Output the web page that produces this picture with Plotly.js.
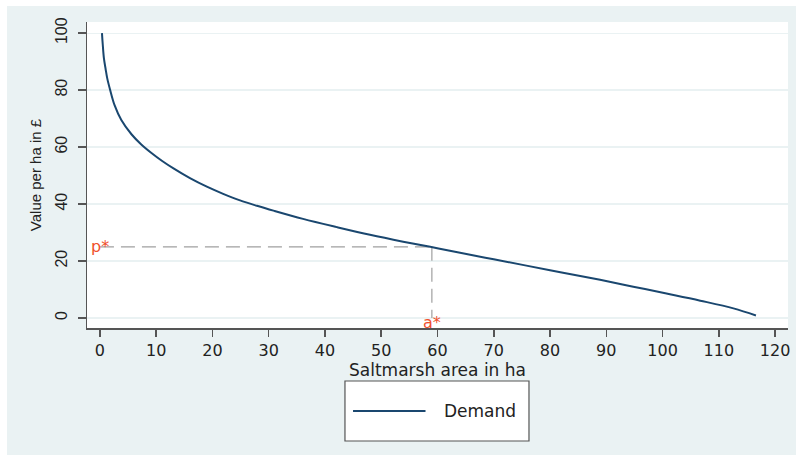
<!DOCTYPE html>
<html>
<head>
<meta charset="utf-8">
<script src="https://cdn.plot.ly/plotly-3.0.1.min.js"></script>
<style>html,body{margin:0;padding:0;background:#fff;}#chart{width:796px;height:459px;}</style>
</head>
<body>
<div id="chart"></div>
<script>
// Demand curve
var demandX = [0.36, 0.5, 0.71, 1.0, 1.3, 1.78, 2.6, 3.8, 5.6, 7.3, 9.1, 11, 13, 16, 19, 21.9, 24.9, 27.9, 31, 36.1, 42.1, 48, 53.9, 58.7, 62.2, 70, 80, 88.9, 94.8, 100.7, 106.7, 112.6, 116.6];
var demandY = [100, 96, 91.1, 87.5, 84.1, 80.3, 74.7, 69.5, 64.5, 61.0, 58.0, 55.2, 52.6, 49.1, 46.1, 43.6, 41.3, 39.4, 37.6, 34.8, 31.9, 29.2, 26.8, 25.0, 23.6, 20.6, 16.8, 13.4, 11.0, 8.6, 6.1, 3.4, 0.9];
// equilibrium
var pStar = 25;
var aStar = 59;
var xTicks = [0, 10, 20, 30, 40, 50, 60, 70, 80, 90, 100, 110, 120];
var yTicks = [0, 20, 40, 60, 80, 100];
var seriesName = 'Demand';

var traces = [
  {x: [0, aStar], y: [pStar, pStar], mode: 'lines', line: {color: '#a0a0a0', width: 1.2, dash: '14px,7px'}, showlegend: false, hoverinfo: 'skip'},
  {x: [aStar, aStar], y: [pStar, 0], mode: 'lines', line: {color: '#a0a0a0', width: 1.2, dash: '14px,7px'}, showlegend: false, hoverinfo: 'skip'},
  {x: demandX, y: demandY, mode: 'lines', line: {color: '#1a476f', width: 2, shape: 'spline', smoothing: 1}, name: seriesName, showlegend: false}
];

var bg = '#eaf2f3';
var layout = {
  width: 796, height: 459,
  margin: {l: 87, r: 8, t: 22, b: 131},
  paper_bgcolor: bg,
  plot_bgcolor: '#ffffff',
  font: {family: 'Liberation Sans, Arial, sans-serif', color: '#222'},
  xaxis: {
    range: [-2.3, 122.3], tickvals: xTicks, ticktext: xTicks.map(String),
    showgrid: false, zeroline: false, showline: true, linecolor: '#555', linewidth: 1.5,
    ticks: 'outside', ticklen: 7, tickcolor: '#555', tickwidth: 1.5,
    tickfont: {family: 'DejaVu Sans, sans-serif', size: 16, color: '#222'},
    ticklabelstandoff: 0,
    title: {text: 'Saltmarsh area in ha', font: {family: 'DejaVu Sans, sans-serif', size: 17, color: '#222'}, standoff: 1},
    fixedrange: true
  },
  yaxis: {
    range: [-3.5, 103.9], tickvals: yTicks, ticktext: yTicks.map(String),
    showgrid: true, gridcolor: bg, gridwidth: 1.2, zeroline: false,
    showline: true, linecolor: '#555', linewidth: 1.5,
    ticks: 'outside', ticklen: 8, tickcolor: '#555', tickwidth: 1.5,
    tickangle: -90,
    tickfont: {family: 'Liberation Sans, Arial, sans-serif', size: 16, color: '#222'},
    ticklabelstandoff: 4,
    title: {text: 'Value per ha in £', font: {family: 'Liberation Sans, Arial, sans-serif', size: 15, color: '#222'}, standoff: 8},
    fixedrange: true
  },
  showlegend: false,
  shapes: [
    // white page edges outside the grey-blue frame
    {type: 'rect', xref: 'paper', yref: 'paper', x0: -0.2, x1: 1.1, y0: 1.0523, y1: 1.2, fillcolor: '#ffffff', line: {width: 0}, layer: 'below'},
    {type: 'rect', xref: 'paper', yref: 'paper', x0: -0.2, x1: -0.1141, y0: -0.6, y1: 1.2, fillcolor: '#ffffff', line: {width: 0}, layer: 'below'},
    {type: 'rect', xref: 'paper', yref: 'paper', x0: -0.2, x1: 1.1, y0: -0.6, y1: -0.415, fillcolor: '#ffffff', line: {width: 0}, layer: 'below'},
    // legend box
    {type: 'rect', xref: 'paper', yref: 'paper', x0: 0.368, x1: 0.6305, y0: -0.3693, y1: -0.1732, fillcolor: '#ffffff', line: {color: '#555', width: 1.2}},
    {type: 'line', xref: 'paper', yref: 'paper', x0: 0.3795, x1: 0.4829, y0: -0.2712, y1: -0.2712, line: {color: '#1a476f', width: 2}}
  ],
  annotations: [
    {x: -1.9, y: pStar, xref: 'x', yref: 'y', text: 'p*', showarrow: false, xanchor: 'left', yanchor: 'middle', font: {family: 'DejaVu Sans, sans-serif', size: 16, color: '#f0502d'}},
    {x: aStar, y: -1.6, xref: 'x', yref: 'y', text: 'a*', showarrow: false, xanchor: 'center', yanchor: 'middle', font: {family: 'DejaVu Sans, sans-serif', size: 16, color: '#f0502d'}},
    {x: 0.5064, y: -0.2712, xref: 'paper', yref: 'paper', text: seriesName, showarrow: false, xanchor: 'left', yanchor: 'middle', font: {family: 'DejaVu Sans, sans-serif', size: 17, color: '#222'}}
  ]
};

Plotly.newPlot('chart', traces, layout, {displayModeBar: false, staticPlot: true});
</script>
</body>
</html>
